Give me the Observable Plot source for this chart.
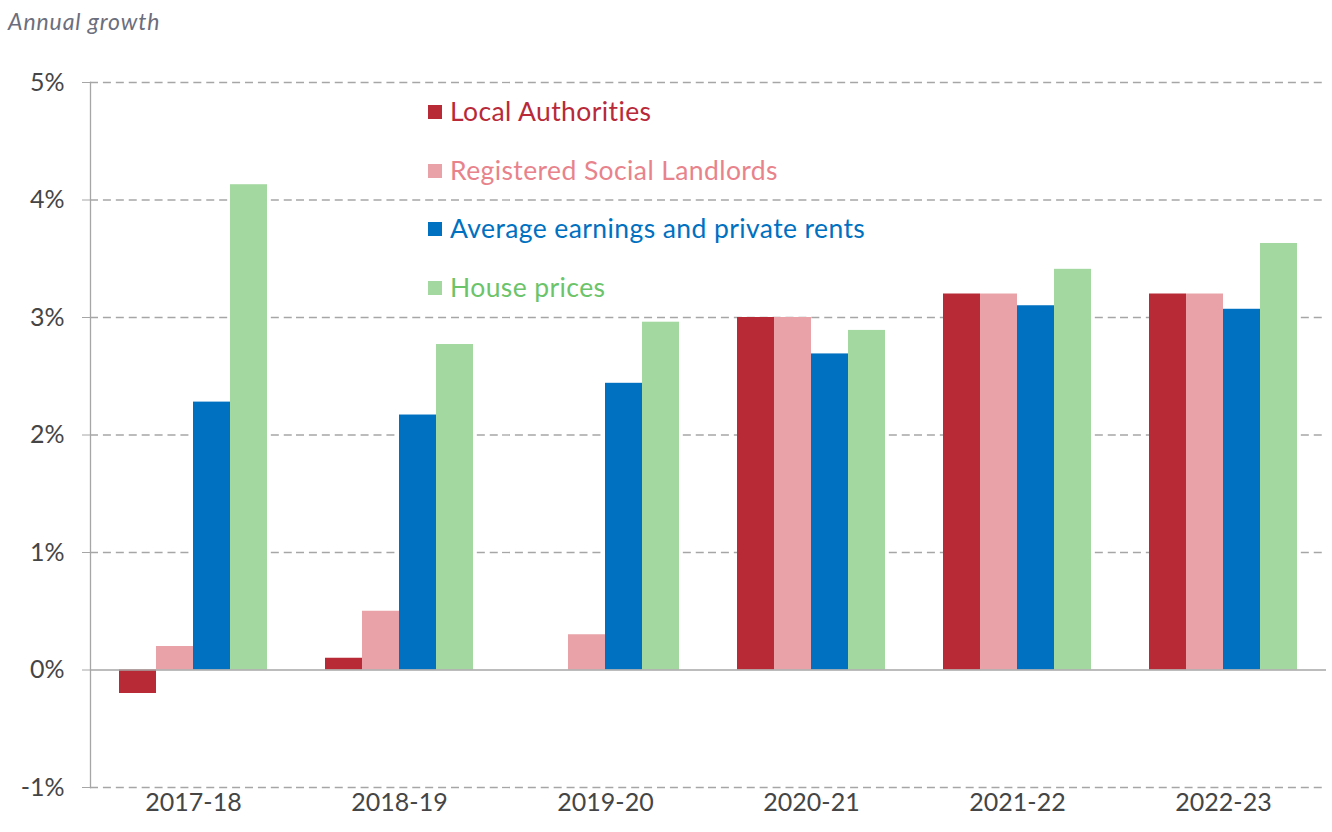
<!DOCTYPE html>
<html>
<head>
<meta charset="utf-8">
<script src="https://cdn.jsdelivr.net/npm/d3@7"></script>
<script src="https://cdn.jsdelivr.net/npm/@observablehq/plot@0.6"></script>
<style>
  html, body { margin: 0; padding: 0; background: #fff; }
  #wrap { position: relative; width: 1332px; height: 832px; font-family: Lato, "Open Sans", sans-serif; }
  #title { height: 44px; box-sizing: border-box; padding-left: 8px; padding-top: 7px; font-style: italic; font-size: 23px; letter-spacing: 0.9px; color: #6b6e7c; line-height: 28px; }
  #legend { position: absolute; left: 428px; top: 95px; }
  .item { height: 58.5px; display: flex; align-items: flex-start; font-size: 26.5px; letter-spacing: 0.4px; line-height: 32px; }
  .sw { width: 14px; height: 14px; margin-right: 8px; margin-top: 10px; flex: none; }
</style>
</head>
<body>
<div id="wrap">
  <div id="title">Annual growth</div>
  <div id="chart"></div>
  <div id="legend"></div>
</div>
<script>
const years = ["2017-18", "2018-19", "2019-20", "2020-21", "2021-22", "2022-23"];
const series = ["Local Authorities", "Registered Social Landlords", "Average earnings and private rents", "House prices"];
const localAuthorities = [-0.2, 0.1, 0.0, 3.0, 3.2, 3.2];
const registeredSocialLandlords = [0.2, 0.5, 0.3, 3.0, 3.2, 3.2];
const earningsAndRents = [2.28, 2.17, 2.44, 2.69, 3.1, 3.07];
const housePrices = [4.13, 2.77, 2.96, 2.89, 3.41, 3.63];
const barColors = ["#b82a35", "#e9a3a8", "#0070c0", "#a3d9a0"];
const textColors = ["#b82a3a", "#e8838c", "#0070c0", "#6cc46a"];
const yTicks = [-1, 0, 1, 2, 3, 4, 5];

const seriesValues = [localAuthorities, registeredSocialLandlords, earningsAndRents, housePrices];
const rows = [];
years.forEach((year, i) => {
  series.forEach((s, j) => rows.push({year, series: s, value: seriesValues[j][i]}));
});

const W = 1332, ML = 88, MR = 4;
const facetW = (W - ML - MR) / years.length;
const dashPeriod = facetW / 16;
const dash = `8,${(dashPeriod - 8).toFixed(3)}`;

const chart = Plot.plot({
  width: W,
  height: 788,
  marginTop: 38,
  marginBottom: 45,
  marginLeft: ML,
  marginRight: MR,
  style: {fontFamily: "Lato, 'Open Sans', sans-serif", background: "#fff"},
  fx: {domain: years, paddingInner: 0, paddingOuter: 0, label: null},
  x: {domain: series, paddingInner: 0, paddingOuter: 0.775, axis: null},
  y: {domain: [-1, 5], axis: null},
  color: {domain: series, range: barColors},
  marks: [
    Plot.ruleY(yTicks.filter(v => v !== 0), {stroke: "#a6a6a6", strokeWidth: 1.3, strokeDasharray: dash}),
    Plot.barY(rows, {fx: "year", x: "series", y: "value", fill: "series"}),
    Plot.ruleY([0], {stroke: "#a6a6a6", strokeWidth: 1.5}),
    Plot.axisY(yTicks, {tickSize: 8, tickPadding: 18, tickFormat: d => d + "%", fontSize: 25, stroke: "#a6a6a6", fill: "#454545", label: null}),
    Plot.axisFx({anchor: "bottom", tickSize: 0, tickPadding: 6, fontSize: 25, fill: "#454545", label: null}),
    Plot.frame({anchor: "left", facet: "super", stroke: "#a6a6a6", strokeWidth: 1.3})
  ]
});
document.getElementById("chart").appendChild(chart);

const legend = document.getElementById("legend");
series.forEach((s, i) => {
  const item = document.createElement("div");
  item.className = "item";
  const sw = document.createElement("span");
  sw.className = "sw";
  sw.style.background = barColors[i];
  const label = document.createElement("span");
  label.textContent = s;
  label.style.color = textColors[i];
  item.appendChild(sw);
  item.appendChild(label);
  legend.appendChild(item);
});
</script>
</body>
</html>
